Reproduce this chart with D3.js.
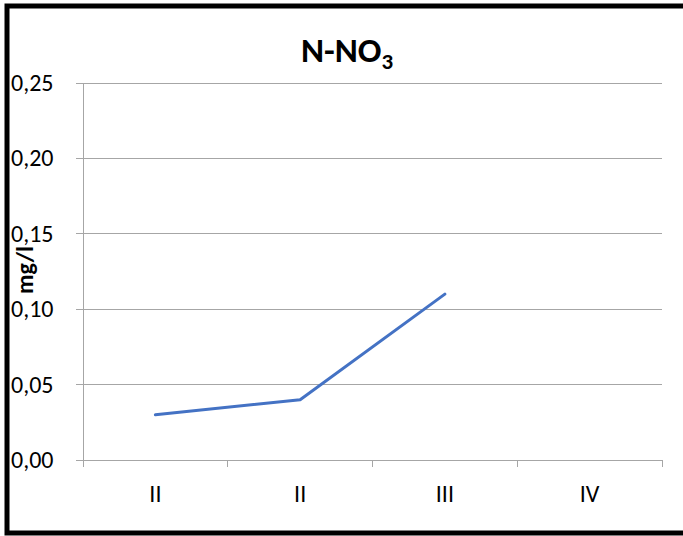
<!DOCTYPE html>
<html><head><meta charset="utf-8">
<script src="https://cdn.jsdelivr.net/npm/d3@7"></script>
<style>body{margin:0;background:#fff}</style>
</head><body>
<svg id="c" width="683" height="536"></svg>
<script>
const categories = ["II", "II", "III", "IV"];
const values = [0.03, 0.04, 0.11, null];
const yTicks = [0, 0.05, 0.10, 0.15, 0.20, 0.25];

const svg = d3.select("#c");
const font = "Carlito, 'Liberation Sans', Arial, sans-serif";
svg.append("rect").attr("x", 7).attr("y", 6).attr("width", 700).attr("height", 527)
  .attr("fill", "#fff").attr("stroke", "#000").attr("stroke-width", 5);

const L = 83, R = 662, T = 83, B = 460;
const x = d3.scaleBand().domain(d3.range(categories.length)).range([L, R]);
const y = d3.scaleLinear().domain([0, 0.25]).range([B, T]);

// gridlines
svg.append("g").selectAll("line").data(yTicks).join("line")
  .attr("x1", L - 7).attr("x2", R).attr("y1", d => y(d)).attr("y2", d => y(d))
  .attr("stroke", "#a6a6a6").attr("stroke-width", 1).attr("shape-rendering", "crispEdges");

// y axis line
svg.append("line").attr("x1", L).attr("x2", L).attr("y1", T).attr("y2", B)
  .attr("stroke", "#a6a6a6").attr("shape-rendering", "crispEdges");

// x tick marks
const xt = d3.range(categories.length + 1).map(i => i < categories.length ? x(i) : R);
svg.append("g").selectAll("line").data(xt).join("line")
  .attr("x1", d => d).attr("x2", d => d).attr("y1", B).attr("y2", B + 7)
  .attr("stroke", "#a6a6a6").attr("shape-rendering", "crispEdges");

// y labels
const fmt = d => d.toFixed(2).replace(".", ",");
svg.append("g").selectAll("text").data(yTicks).join("text")
  .attr("x", 11).attr("y", d => y(d) + 8)
  .attr("font-family", font).attr("font-size", 24).attr("fill", "#000")
  .text(fmt);

// x labels
svg.append("g").selectAll("text").data(categories).join("text")
  .attr("x", (d, i) => x(i) + x.bandwidth() / 2).attr("y", 502)
  .attr("text-anchor", "middle").attr("font-family", font).attr("font-size", 24)
  .text(d => d);

// line
const line = d3.line().defined(d => d != null)
  .x((d, i) => x(i) + x.bandwidth() / 2).y(d => y(d));
svg.append("path").datum(values).attr("d", line)
  .attr("fill", "none").attr("stroke", "#4472C4").attr("stroke-width", 3)
  .attr("stroke-linejoin", "round").attr("stroke-linecap", "round");

// title
const t = svg.append("text").attr("x", 347).attr("y", 62).attr("text-anchor", "middle")
  .attr("font-family", font).attr("font-size", 35).attr("font-weight", "bold");
t.append("tspan").text("N-NO");
t.append("tspan").attr("font-size", 23).attr("dy", 7).text("3");

// y axis title
svg.append("text").attr("transform", "translate(33,270) rotate(-90)")
  .attr("text-anchor", "middle").attr("font-family", font).attr("font-size", 24)
  .attr("font-weight", "bold").text("mg/l");
</script>
</body></html>
